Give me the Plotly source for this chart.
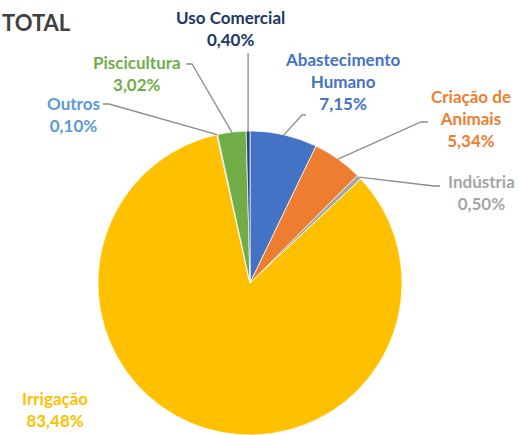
import math
import plotly.graph_objects as go

# Water use shares by sector (%), in series order
categorias = ["Abastecimento Humano", "Criação de Animais", "Indústria", "Irrigação",
              "Outros", "Piscicultura", "Uso Comercial"]
rotulos = ["Abastecimento<br>Humano", "Criação de<br>Animais", "Indústria", "Irrigação",
           "Outros", "Piscicultura", "Uso Comercial"]
percentuais = [7.15, 5.34, 0.50, 83.48, 0.10, 3.02, 0.40]
cores = ["#4472C4", "#ED7D31", "#A5A5A5", "#FFC000", "#5B9BD5", "#70AD47", "#264478"]
cores_texto = ["#4472C4", "#ED7D31", "#A5A5A5", "#FFC000", "#5B9BD5", "#70AD47", "#203864"]

W, H = 521, 435
CX, CY, R = 250, 283, 152  # pie centre and radius in pixels

# label block centres (px) and leader-line anchor / elbow (px)
pos_rotulo = {
    "Abastecimento Humano": (342, 81),
    "Criação de Animais": (471, 118),
    "Indústria": (481, 192),
    "Irrigação": (55, 409),
    "Outros": (73, 114),
    "Piscicultura": (137, 74),
    "Uso Comercial": (230, 29),
}
guias = {
    "Abastecimento Humano": [(306, 115), (302, 115)],
    "Criação de Animais": [(428, 122), (421, 122)],
    "Indústria": [(440, 186), (434, 186)],
    "Outros": [(103, 104), (109, 104)],
    "Piscicultura": [(186, 64), (192, 64)],
    "Uso Comercial": [None, None],
}


def px(x):
    return x / W


def py(y):
    return 1 - y / H


fig = go.Figure()
fig.add_trace(go.Pie(
    labels=categorias,
    values=percentuais,
    sort=False,
    direction="clockwise",
    rotation=0,
    textinfo="none",
    marker=dict(colors=cores, line=dict(color="#FFFFFF", width=0.7)),
    domain=dict(x=[px(CX - R), px(CX + R)], y=[py(CY + R), py(CY - R)]),
    showlegend=False,
))

total = sum(percentuais)
acum = 0.0
shapes = []
annotations = []
for nome, rot, v, cor in zip(categorias, rotulos, percentuais, cores_texto):
    meio = math.radians(360.0 * (acum + v / 2) / total)
    acum += v
    ex, ey = CX + R * math.sin(meio), CY - R * math.cos(meio)
    texto = f"{rot}<br>{v:.2f}".replace(".", ",") + "%"
    lx, ly = pos_rotulo[nome]
    annotations.append(dict(
        x=px(lx), y=py(ly), xref="paper", yref="paper", text=texto,
        showarrow=False, xanchor="center", yanchor="middle", align="center",
        font=dict(family="Lato", size=17, color=cor, weight="bold"),
    ))
    if nome in guias:
        a, b = guias[nome]
        if a is None:
            a, b = (ex, 53), (ex, 54)
        caminho = (f"M {px(a[0])} {py(a[1])} L {px(b[0])} {py(b[1])} "
                   f"L {px(ex)} {py(ey)}")
        shapes.append(dict(type="path", path=caminho, xref="paper", yref="paper",
                           line=dict(color="#8C8C8C", width=1.3)))

annotations.append(dict(
    x=0, y=py(22), xref="paper", yref="paper", text="TOTAL",
    showarrow=False, xanchor="left", yanchor="middle",
    font=dict(family="Lato", size=22, color="#404040", weight="bold"),
))

fig.update_layout(
    width=W, height=H,
    margin=dict(l=0, r=0, t=0, b=0),
    paper_bgcolor="#FFFFFF", plot_bgcolor="#FFFFFF",
    shapes=shapes, annotations=annotations,
)

fig.write_html("out.html")
